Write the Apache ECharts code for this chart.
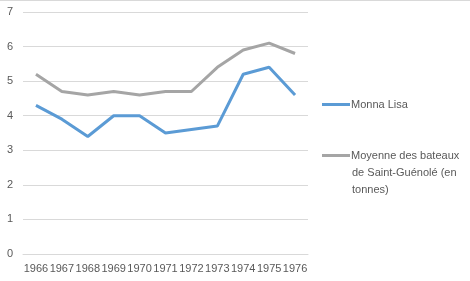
<!DOCTYPE html>
<html><head><meta charset="utf-8">
<script src="https://cdn.jsdelivr.net/npm/echarts@6/dist/echarts.min.js"></script>
<style>html,body{margin:0;padding:0;background:#fff}#c{width:470px;height:281px}</style>
</head><body><div id="c"></div>
<script>
var years = ['1966','1967','1968','1969','1970','1971','1972','1973','1974','1975','1976'];
var monnaLisa = [4.3, 3.9, 3.4, 4.0, 4.0, 3.5, 3.6, 3.7, 5.2, 5.4, 4.6];
var moyenne = [5.2, 4.7, 4.6, 4.7, 4.6, 4.7, 4.7, 5.4, 5.9, 6.1, 5.8];
var yTicks = [0, 1, 2, 3, 4, 5, 6, 7];
var nameA = 'Monna Lisa';
var nameB = 'Moyenne des bateaux';
var nameBcont = 'de Saint-Guénolé (en\ntonnes)';

var font = 'Liberation Sans';
var lineIcon = 'path://M0,0 L28,0 L28,3 L0,3 Z';
var chart = echarts.init(document.getElementById('c'), null, {renderer:'canvas'});
chart.setOption({
  animation: false,
  backgroundColor: '#fff',
  grid: {left: 23, right: 162, top: 12, bottom: 27},
  legend: [{
    data: [nameA], orient: 'vertical', left: 322, top: 99, padding: 0,
    itemWidth: 28, itemHeight: 3, itemGap: 0,
    icon: lineIcon,
    textStyle: {fontFamily: font, fontSize: 11, color: '#595959', padding: [0,0,0,-4]}
  },{
    data: [nameB], orient: 'vertical', left: 322, top: 150, padding: 0,
    itemWidth: 28, itemHeight: 3, itemGap: 0,
    icon: lineIcon,
    textStyle: {fontFamily: font, fontSize: 11, color: '#595959', padding: [0,0,0,-4]}
  }],
  graphic: [
    {type:'line', shape:{x1:0,y1:0.5,x2:470,y2:0.5}, style:{stroke:'#d9d9d9', lineWidth:1}},
    {type:'text', left: 352, top: 165, style:{text: nameBcont, fontFamily: font, fontSize: 11, fill:'#595959', lineHeight: 16.5}}
  ],
  xAxis: {
    type: 'category', data: years, boundaryGap: true,
    axisLine: {lineStyle: {color: '#d9d9d9', width: 1}},
    axisTick: {show: false},
    axisLabel: {fontFamily: font, fontSize: 11, color: '#595959', margin: 9, interval: 0}
  },
  yAxis: {
    type: 'value', min: yTicks[0], max: yTicks[yTicks.length-1], interval: 1,
    axisLine: {show: false}, axisTick: {show: false},
    splitLine: {lineStyle: {color: '#d9d9d9', width: 1}},
    axisLabel: {fontFamily: font, fontSize: 11, color: '#595959', margin: 10}
  },
  series: [
    {name: nameA, type: 'line', data: monnaLisa, symbol: 'none',
     lineStyle: {color: '#5b9bd5', width: 3}, itemStyle: {color: '#5b9bd5'}},
    {name: nameB, type: 'line', data: moyenne, symbol: 'none',
     lineStyle: {color: '#a5a5a5', width: 3}, itemStyle: {color: '#a5a5a5'}}
  ]
});
</script></body></html>
